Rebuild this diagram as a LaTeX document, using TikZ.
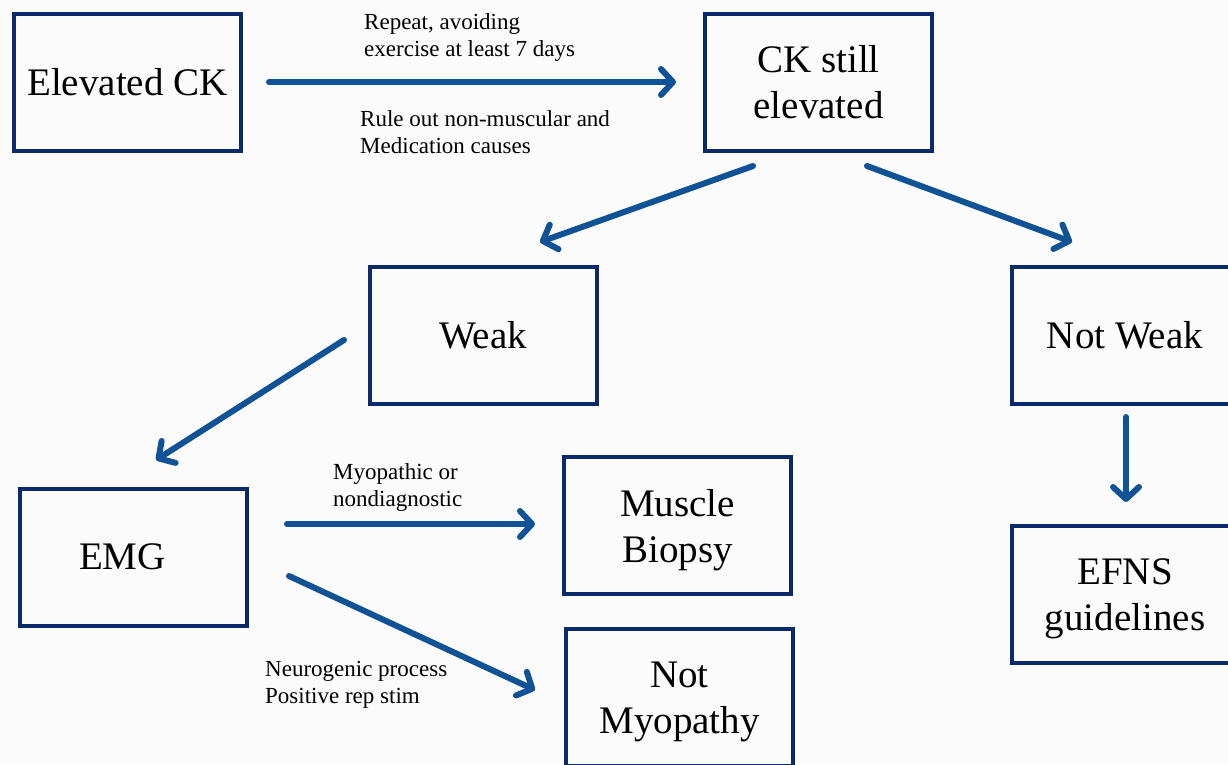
\documentclass[tikz,border=0pt]{standalone}
\usepackage{fontspec}
\setmainfont{Liberation Serif}
\usetikzlibrary{arrows.meta}
\definecolor{boxblue}{HTML}{0B2A6A}
\definecolor{arrblue}{HTML}{0F5296}
\definecolor{bgcol}{HTML}{FBFBFB}
\begin{document}
\begin{tikzpicture}[x=1pt,y=-1pt,
  box/.style={draw=boxblue,line width=4pt,minimum width=227pt,minimum height=137pt,
    inner sep=0pt,align=center,font=\fontsize{39}{46}\selectfont,text=black},
  lowtext/.style={text height=82pt,text depth=9pt},
  conn/.style={draw=arrblue,line width=6pt,line cap=round,
    -{Straight Barb[length=12pt,width=26pt,line cap=round,line join=round]}},
  lbl/.style={anchor=west,align=left,inner sep=0pt,font=\fontsize{23}{27}\selectfont,text=black}]
\fill[bgcol] (0,0) rectangle (1228,764);
\useasboundingbox (0,0) rectangle (1228,764);
\clip (0,0) rectangle (1228,764);
\node[box] (elev) at (127.5,82.5) {Elevated CK};
\node[box] (still) at (818.5,82.5) {CK still\\elevated};
\node[box] (weak) at (483,335) {Weak};
\node[box] (notweak) at (1125,335) {Not Weak};
\node[box] (emg) at (133.5,557) {EMG\hspace{22pt}};
\node[box,lowtext] (biopsy) at (677.5,525.5) {Muscle\\Biopsy};
\node[box,lowtext] (notmyo) at (679.5,697) {Not\\Myopathy};
\node[box,lowtext] (efns) at (1125,594) {EFNS\\guidelines};
% connector end points
\coordinate (a1s) at (269,82);   \coordinate (a1e) at (676,82);
\coordinate (a2s) at (753,166);  \coordinate (a2e) at (540,242);
\coordinate (a3s) at (867,166);  \coordinate (a3e) at (1072,242);
\coordinate (a4s) at (344,340);  \coordinate (a4e) at (156,460);
\coordinate (a5s) at (287,524);  \coordinate (a5e) at (535,524);
\coordinate (a6s) at (289,576);  \coordinate (a6e) at (535,690);
\coordinate (a7s) at (1126,417); \coordinate (a7e) at (1126,502);
\draw[conn] (a1s) -- (a1e);
\draw[conn] (a2s) -- (a2e);
\draw[conn] (a3s) -- (a3e);
\draw[conn] (a4s) -- (a4e);
\draw[conn] (a5s) -- (a5e);
\draw[conn] (a6s) -- (a6e);
\draw[conn] (a7s) -- (a7e);
\node[lbl] (l1) at (364,37) {Repeat, avoiding\\exercise at least 7 days};
\node[lbl] (l2) at (360,132) {Rule out non-muscular and\\Medication causes};
\node[lbl] (l3) at (333,487) {Myopathic or\\nondiagnostic};
\node[lbl] (l4) at (265,685) {Neurogenic process\\Positive rep stim};
\end{tikzpicture}
\end{document}
